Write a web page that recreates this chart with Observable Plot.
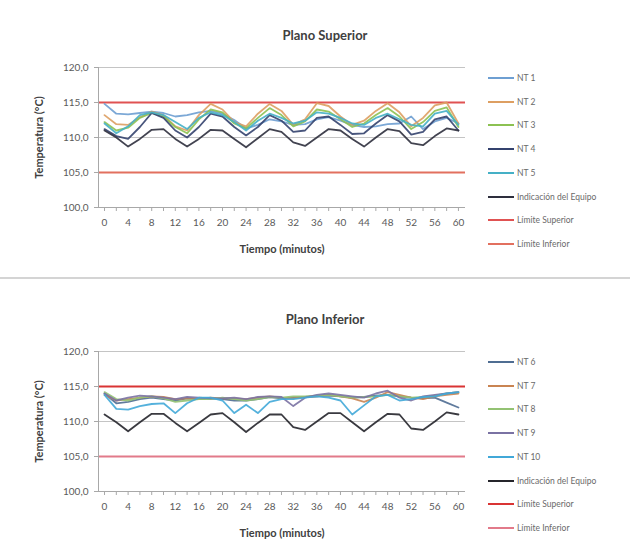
<!DOCTYPE html>
<html>
<head>
<meta charset="utf-8">
<script src="https://cdn.jsdelivr.net/npm/d3@7"></script>
<script src="https://cdn.jsdelivr.net/npm/@observablehq/plot@0.6"></script>
<style>
  body { margin:0; background:#fff; font-family: Lato, "Open Sans", sans-serif; }
  .panel { position:absolute; left:0; width:630px; height:277px; }
  .title { position:absolute; left:0; width:650px; text-align:center; font-weight:bold; font-size:13px; color:#404040; }
  .plot { position:absolute; left:0; top:0; }
  .legend { position:absolute; left:488px; }
  .item { position:absolute; left:0; height:12px; display:flex; align-items:center; white-space:nowrap; font-size:8.5px; color:#6a6a6a; }
  .item span.sw { display:inline-block; width:26px; height:2px; margin-right:3px; }
  .sep { position:absolute; left:0; top:277px; width:630px; height:2px; background:#d4d4d4; }
</style>
</head>
<body>
<div id="root"></div>
<script>
// ---- data ----
const minutes = [0,2,4,6,8,10,12,14,16,18,20,22,24,26,28,30,32,34,36,38,40,42,44,46,48,50,52,54,56,58,60];
const xTickLabels = [0,4,8,12,16,20,24,28,32,36,40,44,48,52,56,60];
const yTicks = [100,105,110,115,120];
const limiteSuperior = 115;
const limiteInferior = 105;

// Plano Superior
const nt1 = [114.8,113.4,113.3,113.5,113.7,113.5,113.0,113.2,113.6,113.8,113.4,112.5,111.3,111.8,112.6,112.3,111.8,111.9,112.6,112.9,112.4,111.8,111.5,111.6,111.9,112.0,113.0,111.2,112.3,112.8,112.0];
const nt2 = [113.2,111.9,111.8,112.9,113.7,113.2,111.6,111.0,113.2,114.8,114.0,112.2,111.6,113.4,114.8,113.8,111.8,112.6,114.9,114.5,113.0,111.8,112.4,113.8,114.9,113.6,111.6,112.8,114.6,115.0,112.0];
const nt3 = [112.2,111.0,111.4,112.8,113.5,113.0,111.5,110.6,112.6,114.0,113.6,112.0,111.3,112.8,114.2,113.2,111.6,112.3,114.0,113.7,112.6,111.5,112.0,113.2,114.2,113.0,111.2,112.2,113.8,114.3,111.5];
const nt4 = [111.2,110.2,109.8,111.5,113.5,112.8,111.0,110.0,111.5,113.4,113.0,111.5,110.3,111.5,113.2,112.4,110.8,111.0,112.8,113.0,111.8,110.5,110.6,112.0,113.2,112.3,110.4,110.8,112.6,113.0,111.0];
const nt5 = [112.0,110.6,111.6,113.2,113.6,113.2,112.2,111.2,112.8,113.6,113.2,112.2,111.0,112.4,113.4,112.8,112.0,112.4,113.6,113.4,112.8,112.0,111.8,112.8,113.4,112.6,111.8,111.6,113.4,113.8,111.8];
const equipoSup = [111.0,110.0,108.7,109.8,111.1,111.2,109.8,108.7,109.8,111.1,111.0,109.8,108.6,109.9,111.2,110.8,109.3,108.8,110.0,111.2,111.0,109.8,108.7,110.0,111.2,110.9,109.2,108.9,110.2,111.3,111.0];

// Plano Inferior
const nt6 = [114.0,112.6,112.8,113.2,113.4,113.2,113.0,113.3,113.2,113.3,113.2,113.0,113.0,113.2,113.5,113.3,113.4,113.5,113.6,113.7,113.6,113.4,113.5,113.7,113.8,113.6,113.4,113.3,113.4,112.7,112.0];
const nt7 = [113.8,113.0,113.2,113.4,113.6,113.5,113.2,113.3,113.2,113.4,113.3,113.3,113.2,113.4,113.6,113.4,113.3,113.5,113.6,113.8,113.6,113.3,112.8,113.4,114.2,113.8,113.4,113.2,113.6,113.8,114.0];
const nt8 = [114.2,113.2,113.0,113.4,113.6,113.3,112.8,113.0,113.2,113.2,113.4,113.2,113.0,113.2,113.5,113.4,113.6,113.6,113.7,113.8,113.6,113.4,113.5,113.6,113.8,113.6,113.4,113.5,113.7,114.0,114.2];
const nt9 = [114.0,113.0,113.4,113.7,113.6,113.4,113.2,113.5,113.4,113.3,113.3,113.4,113.2,113.5,113.6,113.5,112.2,113.4,113.8,114.0,113.8,113.6,113.4,114.0,114.4,113.4,113.0,113.6,113.8,114.0,114.2];
const nt10 = [113.8,111.8,111.7,112.2,112.5,112.6,111.2,112.6,113.4,113.4,113.0,111.2,112.4,111.2,112.8,113.2,113.2,113.4,113.6,113.4,113.0,111.0,112.3,113.6,113.8,113.0,113.2,113.5,113.6,114.0,114.2];
const equipoInf = [111.0,109.9,108.6,109.9,111.1,111.1,109.8,108.6,109.8,111.0,111.2,109.9,108.5,109.8,111.0,111.0,109.2,108.8,110.0,111.2,111.2,109.9,108.6,109.9,111.1,111.0,109.0,108.8,110.0,111.3,111.0];

const panels = [
  {
    title: "Plano Superior",
    top: 0,
    series: [
      {name:"NT 1", values:nt1, color:"#6e9fd2"},
      {name:"NT 2", values:nt2, color:"#dd9f62"},
      {name:"NT 3", values:nt3, color:"#8cc152"},
      {name:"NT 4", values:nt4, color:"#34426e"},
      {name:"NT 5", values:nt5, color:"#45b0c6"},
      {name:"Indicación del Equipo", values:equipoSup, color:"#2e2f3d"}
    ],
    sup:"#e05252", inf:"#e2705f"
  },
  {
    title: "Plano Inferior",
    top: 284,
    series: [
      {name:"NT 6", values:nt6, color:"#4f6d92"},
      {name:"NT 7", values:nt7, color:"#c98452"},
      {name:"NT 8", values:nt8, color:"#93c273"},
      {name:"NT 9", values:nt9, color:"#7a72a3"},
      {name:"NT 10", values:nt10, color:"#41a8d8"},
      {name:"Indicación del Equipo", values:equipoInf, color:"#25252b"}
    ],
    sup:"#d93434", inf:"#e27a8a"
  }
];

const root = document.getElementById("root");
const fmt = d => d.toFixed(1).replace(".", ",");
const minorTicks = minutes;

for (const p of panels) {
  const panel = document.createElement("div");
  panel.className = "panel";
  panel.style.top = p.top + "px";
  root.appendChild(panel);

  const t = document.createElement("div");
  t.className = "title";
  t.style.top = "27px";
  t.textContent = p.title;
  panel.appendChild(t);

  const rows = [];
  for (const s of p.series) {
    s.values.forEach((v, i) => rows.push({serie: s.name, minuto: minutes[i], temp: v}));
  }
  const colorDomain = p.series.map(s => s.name);
  const colorRange = p.series.map(s => s.color);

  const chart = Plot.plot({
    width: 475,
    height: 262,
    marginTop: 67,
    marginBottom: 55,
    marginLeft: 98,
    marginRight: 10,
    style: {fontFamily: "Lato, 'Open Sans', sans-serif", color: "#5a5a5a", background: "transparent", overflow: "visible"},
    x: {domain: [-1.02, 61.2]},
    y: {domain: [100, 120]},
    color: {domain: colorDomain, range: colorRange},
    marks: [
      Plot.ruleY(yTicks, {stroke: "#c4c4c4", strokeWidth: 1.2}),
      Plot.ruleY([limiteSuperior], {stroke: p.sup, strokeWidth: 2}),
      Plot.ruleY([limiteInferior], {stroke: p.inf, strokeWidth: 2}),
      Plot.line(rows, {x: "minuto", y: "temp", z: "serie", stroke: "serie", strokeWidth: 1.8, strokeOpacity: 0.9}),
      Plot.ruleX([-1.02], {y1: 100, y2: 120, stroke: "#a8a8a8"}),
      Plot.ruleY([100], {stroke: "#a8a8a8"}),
      Plot.axisY({ticks: yTicks, tickFormat: fmt, tickSize: 4, tickPadding: 6, fontSize: 10, stroke: "#a8a8a8",
        label: "Temperatura (°C)", labelAnchor: "center", labelOffset: 63, labelArrow: "none"}),
      Plot.axisX({ticks: minorTicks, tickFormat: d => (d % 4 === 0 ? String(d) : ""), tickSize: 4, tickPadding: 7, fontSize: 10, stroke: "#a8a8a8",
        label: "Tiempo (minutos)", labelAnchor: "center", labelOffset: 45, labelArrow: "none"})
    ]
  });
  chart.classList.add("plot");
  chart.style.position = "absolute";
  chart.style.left = "0px";
  chart.style.top = "0px";
  chart.querySelectorAll("g[aria-label='y-axis label'] text, g[aria-label='x-axis label'] text").forEach(el => {
    el.setAttribute("font-weight", "bold");
    el.setAttribute("font-size", "11");
    el.setAttribute("fill", "#404040");
  });
  panel.appendChild(chart);

  const legend = document.createElement("div");
  legend.className = "legend";
  legend.style.top = "0px";
  const items = p.series.map(s => ({name: s.name, color: s.color}))
    .concat([{name: "Límite Superior", color: p.sup}, {name: "Límite Inferior", color: p.inf}]);
  items.forEach((it, i) => {
    const row = document.createElement("div");
    row.className = "item";
    row.style.top = (72 + i * 23.7) + "px";
    const sw = document.createElement("span");
    sw.className = "sw";
    sw.style.background = it.color;
    row.appendChild(sw);
    const tx = document.createElement("span");
    tx.textContent = it.name;
    row.appendChild(tx);
    legend.appendChild(row);
  });
  panel.appendChild(legend);
}
const sep = document.createElement("div");
sep.className = "sep";
root.appendChild(sep);
</script>
</body>
</html>
